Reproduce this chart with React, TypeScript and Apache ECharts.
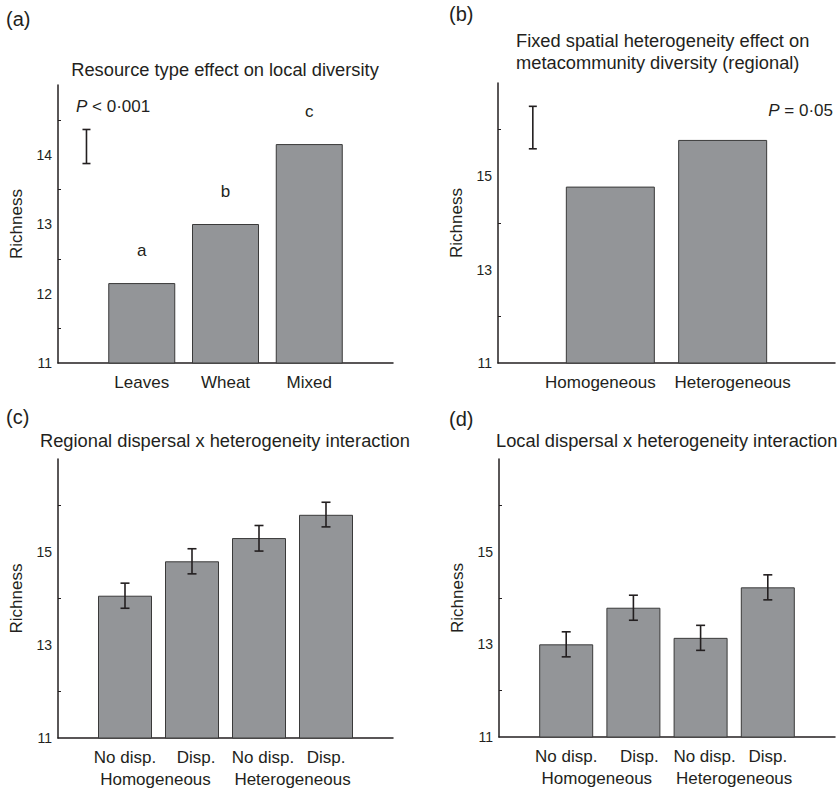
import React, { useEffect, useRef } from "react";
import * as echarts from "echarts";

// ---------- data ----------
const aCategories = ["Leaves", "Wheat", "Mixed"];
const aValues = [12.15, 13.0, 14.15];
const aLetters = ["a", "b", "c"];
const aScaleBar = [0.34, 13.87, 14.36]; // x, low, high

const bCategories = ["Homogeneous", "Heterogeneous"];
const bValues = [14.78, 15.78];
const bScaleBar = [0.31, 15.59, 16.5];

const dispCategories = ["No disp.", "Disp.", "No disp.", "Disp."];
const groupCategories = ["Homogeneous", "Heterogeneous"];

const cValues = [14.06, 14.8, 15.3, 15.8];
const cLow = [13.79, 14.53, 15.02, 15.54];
const cHigh = [14.33, 15.07, 15.57, 16.07];

const dValues = [13.0, 13.79, 13.14, 14.23];
const dLow = [12.73, 13.52, 12.87, 13.96];
const dHigh = [13.27, 14.06, 13.41, 14.5];

// ---------- style ----------
const FONT = "'Liberation Sans', Arial, Helvetica, sans-serif";
const INK = "#231f20";
const BAR = "#939598";

function errorRender(capHalf: number) {
  return (params: any, api: any) => {
    const x = api.value(0);
    const lo = api.value(1);
    const hi = api.value(2);
    const p1 = api.coord([x, hi]);
    const p2 = api.coord([x, lo]);
    const style = { stroke: INK, lineWidth: 1.6 };
    return {
      type: "group",
      children: [
        { type: "line", shape: { x1: p1[0], y1: p1[1], x2: p2[0], y2: p2[1] }, style },
        { type: "line", shape: { x1: p1[0] - capHalf, y1: p1[1], x2: p1[0] + capHalf, y2: p1[1] }, style },
        { type: "line", shape: { x1: p2[0] - capHalf, y1: p2[1], x2: p2[0] + capHalf, y2: p2[1] }, style },
      ],
    };
  };
}

function yAxis(gridIndex: number, max: number, interval: number) {
  return {
    type: "value",
    gridIndex,
    min: 11,
    max,
    interval,
    name: "Richness",
    nameLocation: "middle",
    nameRotate: 90,
    nameGap: 33,
    nameTextStyle: { fontFamily: FONT, fontSize: 17, color: INK },
    axisLine: { show: true, lineStyle: { color: INK, width: 1.5 } },
    axisTick: { show: false, inside: true },
    minorTick: { show: true, splitNumber: 2, length: 3, lineStyle: { color: INK, width: 1 } },
    splitLine: { show: false },
    minorSplitLine: { show: false },
    axisLabel: {
      fontFamily: FONT,
      fontSize: 14,
      color: INK,
      margin: 6,
      formatter: (v: number) => (v >= max ? "" : String(v)),
    },
  };
}

// shifts: horizontal nudge (px) of each label, realised through rich-text padding
const richShift: any = {};
[-10, -3, 0, 4, 6, 10].forEach((s) => {
  richShift["s" + (s < 0 ? "m" + -s : "p" + s)] = {
    fontFamily: FONT,
    fontSize: 17,
    color: INK,
    padding: s < 0 ? [0, -2 * s, 0, 0] : [0, 0, 0, 2 * s],
  };
});
const tag = (s: number) => "s" + (s < 0 ? "m" + -s : "p" + s);

function xAxis(
  gridIndex: number,
  max: number,
  interval: number,
  labels: (v: number) => string,
  offset = 0,
  showLine = true
) {
  return {
    type: "value",
    gridIndex,
    min: 0,
    max,
    interval,
    offset,
    position: "bottom",
    axisLine: { show: showLine, onZero: false, lineStyle: { color: INK, width: 1.5 } },
    axisTick: { show: false },
    splitLine: { show: false },
    axisLabel: {
      fontFamily: FONT,
      fontSize: 17,
      color: INK,
      margin: 11,
      showMinLabel: true,
      showMaxLabel: true,
      formatter: labels,
      rich: richShift,
    },
  };
}

const near = (v: number, t: number) => Math.abs(v - t) < 1e-6;
const labelAt = (cats: string[], start: number, step: number, shifts?: number[]) => (v: number) => {
  for (let i = 0; i < cats.length; i++)
    if (near(v, start + i * step)) {
      const s = shifts ? shifts[i] : 0;
      return `{${tag(s)}|${cats[i]}}`;
    }
  return "";
};

const barStyle = { color: BAR, borderColor: "#3a3a3a", borderWidth: 1 };

export default function App() {
  const ref = useRef<HTMLDivElement>(null);
  useEffect(() => {
    if (!ref.current) return;
    const chart = echarts.init(ref.current, undefined, { renderer: "svg" });
    const option: any = {
      animation: false,
      backgroundColor: "#ffffff",
      textStyle: { fontFamily: FONT },
      grid: [
        { left: 58, top: 85, width: 335, height: 278 },
        { left: 498, top: 83, width: 337, height: 280 },
        { left: 58, top: 459, width: 335, height: 279 },
        { left: 499, top: 459, width: 336, height: 278 },
      ],
      xAxis: [
        xAxis(0, 4, 1, labelAt(aCategories, 1, 1)),
        xAxis(1, 3, 1, labelAt(bCategories, 1, 1, [-10, 10])),
        xAxis(2, 5, 1, labelAt(dispCategories, 1, 1, [0, 4, 4, 0])),
        xAxis(3, 5, 1, labelAt(dispCategories, 1, 1, [0, 6, 4, 0])),
        xAxis(2, 5, 0.5, labelAt(groupCategories, 1.5, 2, [-3, 0]), 21.6, false),
        xAxis(3, 5, 0.5, labelAt(groupCategories, 1.5, 2, [-3, 0]), 21.6, false),
      ],
      yAxis: [yAxis(0, 15, 1), yAxis(1, 17, 2), yAxis(2, 17, 2), yAxis(3, 17, 2)],
      series: [
        {
          type: "bar",
          xAxisIndex: 0,
          yAxisIndex: 0,
          barWidth: 67,
          itemStyle: barStyle,
          data: aValues.map((v, i) => [i + 1, v]),
          label: {
            show: true,
            position: "top",
            distance: 24,
            fontFamily: FONT,
            fontSize: 17,
            color: INK,
            formatter: (p: any) => aLetters[p.dataIndex],
          },
        },
        {
          type: "custom",
          xAxisIndex: 0,
          yAxisIndex: 0,
          renderItem: errorRender(4),
          encode: { x: 0, y: [1, 2] },
          data: [aScaleBar],
        },
        {
          type: "bar",
          xAxisIndex: 1,
          yAxisIndex: 1,
          barWidth: 89,
          itemStyle: barStyle,
          data: bValues.map((v, i) => [i + 1, v]),
        },
        {
          type: "custom",
          xAxisIndex: 1,
          yAxisIndex: 1,
          renderItem: errorRender(4),
          encode: { x: 0, y: [1, 2] },
          data: [bScaleBar],
        },
        {
          type: "bar",
          xAxisIndex: 2,
          yAxisIndex: 2,
          barWidth: 54,
          itemStyle: barStyle,
          data: cValues.map((v, i) => [i + 1, v]),
        },
        {
          type: "custom",
          xAxisIndex: 2,
          yAxisIndex: 2,
          renderItem: errorRender(4.5),
          encode: { x: 0, y: [1, 2] },
          data: cValues.map((_, i) => [i + 1, cLow[i], cHigh[i]]),
          z: 5,
        },
        {
          type: "bar",
          xAxisIndex: 3,
          yAxisIndex: 3,
          barWidth: 54,
          itemStyle: barStyle,
          data: dValues.map((v, i) => [i + 1, v]),
        },
        {
          type: "custom",
          xAxisIndex: 3,
          yAxisIndex: 3,
          renderItem: errorRender(4.5),
          encode: { x: 0, y: [1, 2] },
          data: dValues.map((_, i) => [i + 1, dLow[i], dHigh[i]]),
          z: 5,
        },
      ],
      graphic: [
        { type: "text", left: 6, top: 9, style: { text: "(a)", font: `20px ${FONT}`, fill: INK } },
        { type: "text", left: 449, top: 4, style: { text: "(b)", font: `20px ${FONT}`, fill: INK } },
        { type: "text", left: 6, top: 407, style: { text: "(c)", font: `20px ${FONT}`, fill: INK } },
        { type: "text", left: 449, top: 409, style: { text: "(d)", font: `20px ${FONT}`, fill: INK } },
        {
          type: "text",
          x: 225,
          y: 69,
          style: { text: "Resource type effect on local diversity", font: `18.3px ${FONT}`, fill: INK, align: "center", verticalAlign: "middle" },
        },
        {
          type: "text",
          x: 516,
          y: 29,
          style: {
            text: "Fixed spatial heterogeneity effect on\nmetacommunity diversity (regional)",
            font: `18.3px ${FONT}`,
            lineHeight: 22,
            fill: INK,
            align: "left",
            verticalAlign: "top",
          },
        },
        {
          type: "text",
          x: 40,
          y: 440,
          style: { text: "Regional dispersal x heterogeneity interaction", font: `18.3px ${FONT}`, fill: INK, align: "left", verticalAlign: "middle" },
        },
        {
          type: "text",
          x: 496,
          y: 440,
          style: { text: "Local dispersal x heterogeneity interaction", font: `18.3px ${FONT}`, fill: INK, align: "left", verticalAlign: "middle" },
        },
        {
          type: "text",
          x: 76,
          y: 106,
          style: {
            text: "{i|P} < 0·001",
            font: `17px ${FONT}`,
            fill: INK,
            align: "left",
            verticalAlign: "middle",
            rich: { i: { fontStyle: "italic", fontSize: 17, fontFamily: FONT, fill: INK } },
          },
        },
        {
          type: "text",
          x: 833,
          y: 110,
          style: {
            text: "{i|P} = 0·05",
            font: `17px ${FONT}`,
            fill: INK,
            align: "right",
            verticalAlign: "middle",
            rich: { i: { fontStyle: "italic", fontSize: 17, fontFamily: FONT, fill: INK } },
          },
        },
      ],
    };
    chart.setOption(option);
    return () => chart.dispose();
  }, []);
  return (
    <div
      ref={ref}
      style={{ position: "fixed", left: 0, top: 0, width: 838, height: 789, background: "#fff" }}
    />
  );
}
